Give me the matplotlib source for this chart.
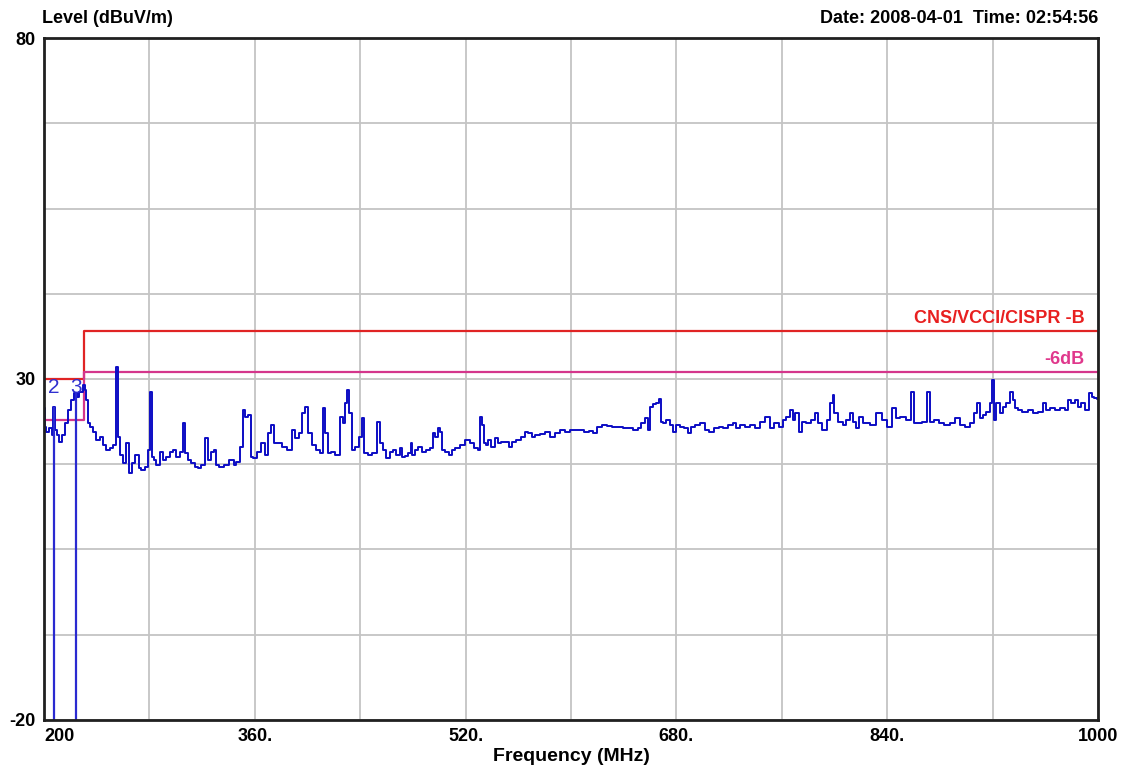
import numpy as np
import matplotlib
matplotlib.use("Agg")
import matplotlib.pyplot as plt
from matplotlib.ticker import MultipleLocator

# measured trace (MHz, dBuV/m)
freq_mhz = [
    200.0, 200.8, 203.0, 205.3, 206.8, 207.6, 209.1, 210.6, 212.9, 214.4,
    217.5, 219.7, 222.0, 224.3, 225.8, 228.1, 230.5, 231.1, 232.6, 234.2,
    236.4, 238.7, 241.0, 244.0, 246.3, 248.6, 251.6, 253.9, 255.4, 256.9,
    259.2, 261.5, 263.0, 265.3, 267.6, 270.6, 272.9, 275.1, 278.2, 279.7,
    281.2, 282.7, 284.2, 286.5, 289.6, 291.8, 294.1, 297.2, 299.4, 301.7,
    304.7, 306.3, 308.5, 310.8, 313.1, 316.1, 318.4, 320.7, 323.7, 325.2,
    328.3, 329.8, 331.3, 335.1, 338.9, 342.7, 345.0, 347.2, 350.3, 351.8,
    354.1, 355.6, 357.9, 360.1, 363.9, 366.2, 369.3, 371.5, 373.8, 375.3,
    379.1, 382.9, 386.7, 389.8, 392.0, 395.1, 397.3, 399.6, 401.9, 404.9,
    408.0, 411.0, 412.5, 414.8, 416.3, 419.4, 423.1, 426.2, 427.7, 430.0,
    430.7, 433.0, 434.5, 437.6, 440.6, 442.1, 444.4, 447.4, 451.2, 454.3,
    456.5, 458.8, 461.1, 464.1, 466.4, 468.7, 471.0, 472.5, 475.5, 477.8,
    479.3, 480.1, 483.1, 485.4, 487.7, 491.5, 494.5, 496.0, 498.3, 499.8,
    502.1, 502.8, 505.9, 508.9, 510.4, 514.2, 518.0, 521.1, 524.9, 528.6,
    530.2, 531.7, 533.2, 534.7, 536.2, 538.5, 540.8, 543.8, 546.1, 548.4,
    551.4, 554.5, 556.7, 559.8, 563.6, 566.6, 568.9, 571.2, 574.9, 578.7,
    582.5, 585.6, 589.4, 593.2, 597.0, 600.8, 604.5, 608.3, 612.1, 615.9,
    618.2, 622.0, 625.8, 629.6, 633.4, 637.2, 641.0, 644.8, 648.6, 652.4,
    654.6, 657.7, 659.2, 661.5, 663.7, 666.0, 667.5, 669.1, 671.3, 673.6,
    676.7, 678.9, 681.2, 684.2, 688.0, 690.3, 692.6, 696.4, 700.2, 703.2,
    707.0, 710.8, 714.6, 716.9, 720.7, 724.5, 726.7, 730.5, 734.3, 738.1,
    741.9, 745.7, 749.5, 752.6, 756.3, 759.4, 762.4, 764.7, 767.7, 769.3,
    771.5, 774.6, 776.8, 779.9, 783.7, 786.7, 789.0, 792.8, 795.1, 798.1,
    798.9, 801.1, 804.2, 808.0, 810.2, 813.3, 815.5, 817.8, 819.3, 824.7,
    829.2, 834.5, 838.3, 842.1, 845.9, 848.2, 852.0, 855.8, 859.6, 861.1,
    864.9, 868.7, 871.7, 874.0, 877.8, 881.6, 885.4, 889.2, 893.0, 896.8,
    900.6, 904.4, 908.1, 908.9, 911.9, 914.2, 916.5, 919.5, 920.3, 921.8,
    924.1, 927.1, 929.4, 931.7, 934.7, 936.2, 938.5, 940.8, 944.6, 948.4,
    952.2, 956.0, 959.8, 962.0, 965.1, 968.9, 972.7, 976.5, 978.7, 981.0,
    984.0, 986.3, 988.6, 991.6, 994.7, 996.2, 998.5, 1000.0,
]
level_dbuv = [
    25.7, 22.9, 22.2, 22.8, 21.8, 25.9, 22.5, 21.8, 20.8, 21.8,
    23.5, 25.5, 26.9, 27.9, 27.4, 28.1, 29.1, 28.4, 26.9, 23.5,
    22.9, 22.2, 21.1, 21.5, 20.3, 19.6, 19.9, 20.3, 31.8, 21.5,
    18.9, 17.7, 20.6, 16.2, 17.7, 18.9, 16.9, 16.7, 17.1, 19.6,
    28.1, 18.6, 18.1, 17.4, 19.3, 18.1, 18.6, 19.3, 19.6, 18.6,
    19.3, 23.5, 19.2, 18.1, 17.7, 17.1, 16.9, 17.4, 21.3, 18.1,
    19.3, 19.6, 17.4, 17.1, 17.4, 18.1, 17.4, 17.8, 20.0, 25.5,
    24.4, 24.7, 18.6, 18.4, 19.3, 20.6, 18.9, 22.1, 23.2, 20.6,
    20.6, 20.0, 19.6, 22.5, 21.3, 22.1, 25.0, 25.9, 22.1, 20.3,
    19.6, 19.2, 25.7, 22.1, 19.2, 19.3, 18.9, 24.4, 23.5, 26.5,
    28.4, 25.0, 19.6, 20.0, 21.5, 24.3, 19.2, 18.9, 19.2, 23.7,
    20.6, 19.6, 18.4, 19.3, 19.6, 18.9, 19.9, 18.6, 18.7, 19.2,
    20.6, 18.9, 19.6, 20.0, 19.3, 19.6, 19.9, 22.1, 21.5, 22.8,
    22.2, 19.6, 19.3, 18.9, 19.6, 19.9, 20.3, 21.1, 20.6, 19.9,
    19.6, 24.4, 23.2, 20.6, 20.3, 21.1, 20.0, 21.3, 20.6, 20.8,
    20.8, 20.0, 20.8, 21.1, 21.5, 22.2, 22.1, 21.5, 21.8, 21.9,
    22.2, 21.5, 22.1, 22.5, 22.2, 22.5, 22.5, 22.5, 22.2, 22.4,
    22.1, 23.0, 23.2, 23.1, 23.0, 23.0, 22.8, 22.8, 22.5, 22.8,
    23.5, 24.3, 22.5, 25.9, 26.3, 26.5, 27.1, 23.7, 23.5, 24.0,
    23.2, 22.2, 23.2, 22.9, 22.8, 22.1, 22.9, 23.2, 23.5, 22.5,
    22.2, 22.8, 22.9, 22.8, 23.2, 23.5, 22.8, 23.2, 22.9, 23.2,
    22.8, 23.7, 24.4, 22.8, 23.5, 22.9, 24.0, 24.4, 25.5, 24.0,
    25.0, 22.2, 23.7, 23.5, 24.0, 25.0, 23.5, 22.5, 24.0, 26.5,
    27.6, 25.0, 23.7, 23.2, 24.0, 25.0, 23.7, 22.8, 24.4, 23.5,
    23.2, 25.0, 24.0, 22.9, 25.7, 24.3, 24.4, 24.0, 28.1, 23.5,
    23.5, 23.7, 28.1, 23.7, 24.0, 23.5, 23.2, 23.5, 24.3, 23.2,
    22.9, 23.5, 25.0, 26.5, 24.3, 24.7, 25.2, 26.5, 29.9, 24.0,
    26.5, 25.0, 25.9, 26.5, 28.1, 26.9, 25.7, 25.5, 25.2, 25.5,
    25.0, 25.2, 26.5, 25.5, 25.7, 25.5, 25.7, 25.5, 26.9, 26.5,
    26.9, 25.9, 26.5, 25.5, 27.9, 27.4, 27.2, 27.0,
]

# CNS/VCCI/CISPR class B limit and the -6 dB margin
limit_freq = [200, 230, 1000]
limit_db = [30, 37, 37]
margin_db = 6

# peak markers
marker_ids = ["2", "3"]
marker_freq = [207.6, 224.3]
marker_level = [25.9, 27.9]
marker_label_db = 28.7

xtick_vals = [200, 360, 520, 680, 840, 1000]
xtick_labels = ["200", "360.", "520.", "680.", "840.", "1000"]
ytick_vals = [-20, 30, 80]

narrow = ["Liberation Sans Narrow", "Liberation Sans", "DejaVu Sans"]
plt.rcParams["font.family"] = ["Liberation Sans", "DejaVu Sans"]

fig = plt.figure(figsize=(11.22, 7.76), dpi=100)
ax = fig.add_axes([0.0392, 0.0722, 0.9394, 0.8788])

ax.set_xlim(200, 1000)
ax.set_ylim(-20, 80)

ax.set_xticks(xtick_vals)
ax.set_xticklabels(xtick_labels, fontfamily=narrow, fontweight="bold", fontsize=13)
ax.get_xticklabels()[0].set_ha("left")
ax.xaxis.set_minor_locator(MultipleLocator(80, offset=40))
ax.set_yticks(ytick_vals)
ax.set_yticklabels([str(v) for v in ytick_vals], fontfamily=narrow,
                   fontweight="bold", fontsize=13)
ax.yaxis.set_minor_locator(MultipleLocator(12.5, offset=5))
ax.tick_params(which="both", length=0, pad=6)
ax.grid(which="both", color="#c4c4c4", lw=1.3)
ax.set_axisbelow(True)
for s in ax.spines.values():
    s.set_linewidth(2)
    s.set_color("#202020")

# limit lines
lim_lo = [v - margin_db for v in limit_db]
ax.plot(limit_freq, limit_db, drawstyle="steps-post", color="#e02424", lw=1.6)
ax.plot(limit_freq, lim_lo, drawstyle="steps-post", color="#d4368c", lw=1.6)

# trace
ax.plot(freq_mhz, level_dbuv, drawstyle="steps-mid", color="#0c0cc4", lw=1.4)

# markers
ax.vlines(marker_freq, -20, marker_level, color="#2a2ad0", lw=1.6)
for mid, mf in zip(marker_ids, marker_freq):
    ax.text(mf, marker_label_db, mid, color="#3030d0", fontsize=15,
            ha="center", va="center")

ax.text(990, limit_db[-1] + 1.8, "CNS/VCCI/CISPR -B", color="#e82020",
        fontsize=13, fontweight="bold", ha="right", va="center")
ax.text(990, lim_lo[-1] + 1.9, "-6dB", color="#e0388c",
        fontsize=13, fontweight="bold", ha="right", va="center")

fig.text(0.037, 0.976, "Level (dBuV/m)", fontsize=13, fontweight="bold",
         ha="left", va="center")
fig.text(0.979, 0.976, "Date: 2008-04-01  Time: 02:54:56", fontsize=13,
         fontweight="bold", ha="right", va="center")
ax.set_xlabel("Frequency (MHz)", fontfamily=narrow, fontweight="bold",
              fontsize=14, labelpad=2)

fig.savefig("out.png", dpi=100)
